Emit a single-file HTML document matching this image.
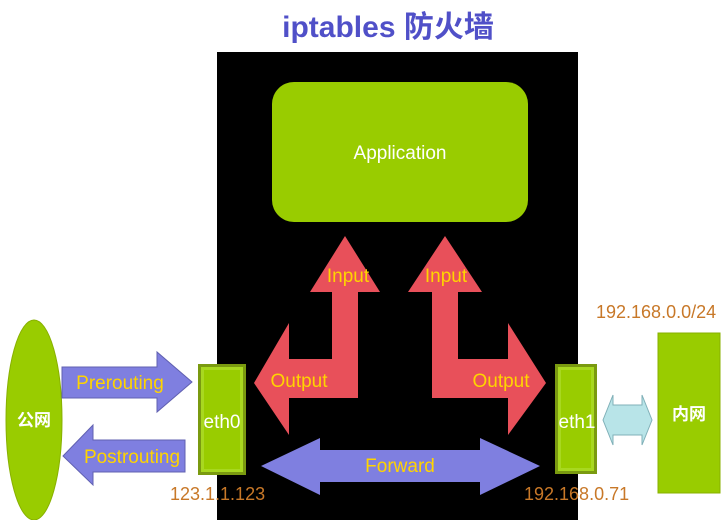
<!DOCTYPE html>
<html><head><meta charset="utf-8"><style>
body{margin:0;width:725px;height:520px;overflow:hidden;background:#fff;font-family:"Liberation Sans","Noto Sans CJK SC",sans-serif}
</style></head><body>
<svg width="725" height="520" xmlns="http://www.w3.org/2000/svg" font-family="Liberation Sans, Noto Sans CJK SC, sans-serif">
<text x="388" y="37" text-anchor="middle" font-size="30" font-weight="bold" fill="#5050c8">iptables  防火墙</text>
<rect x="217" y="52" width="361" height="468" fill="#000"/>
<rect x="272" y="82" width="256" height="140" rx="22" fill="#99cc00"/>
<text x="400" y="159" text-anchor="middle" font-size="19" fill="#fff">Application</text>
<polygon points="345,236 380,292 358,292 358,398 289,398 289,435 254,383 289,323 289,359 332,359 332,292 310,292" fill="#e8505a"/>
<polygon points="445,236 482,292 458,292 458,359 508,359 508,323 546,383 508,435 508,398 432,398 432,292 408,292" fill="#e8505a"/>
<polygon points="261,466 320,438 320,450 480,450 480,438 540,466 480,495 480,482 320,482 320,495" fill="#7f7fe0"/>
<g font-size="19" fill="#ffd400">
<text x="348" y="282" text-anchor="middle">Input</text>
<text x="446" y="282" text-anchor="middle">Input</text>
<text x="299" y="387" text-anchor="middle">Output</text>
<text x="501" y="387" text-anchor="middle">Output</text>
<text x="400" y="472" text-anchor="middle">Forward</text>
</g>
<rect x="198" y="364" width="48" height="111" fill="#7a9a10"/>
<rect x="201" y="367" width="42" height="105" fill="#a8d820"/>
<rect x="204" y="370" width="36" height="99" fill="#99cc00"/>
<text x="222" y="428" text-anchor="middle" font-size="19" fill="#fff">eth0</text>
<rect x="555" y="364" width="42" height="110" fill="#7a9a10"/>
<rect x="558" y="367" width="36" height="104" fill="#a8d820"/>
<rect x="561" y="370" width="30" height="98" fill="#99cc00"/>
<text x="577" y="428" text-anchor="middle" font-size="19" fill="#fff">eth1</text>
<rect x="658" y="333" width="62" height="160" fill="#99cc00" stroke="#88b000"/>
<text x="689" y="420" text-anchor="middle" font-size="17" font-weight="bold" fill="#fff">内网</text>
<ellipse cx="34" cy="420" rx="28" ry="100" fill="#99cc00" stroke="#88b000"/>
<text x="34" y="426" text-anchor="middle" font-size="17" font-weight="bold" fill="#fff">公网</text>
<polygon points="62,367 157,367 157,352 192,382 157,412 157,398 62,398" fill="#7f7fe0" stroke="#6060b0"/>
<text x="120" y="389" text-anchor="middle" font-size="19" fill="#ffd400">Prerouting</text>
<polygon points="63,456 93,425 93,440 185,440 185,472 93,472 93,485" fill="#7f7fe0" stroke="#6060b0"/>
<text x="132" y="463" text-anchor="middle" font-size="19" fill="#ffd400">Postrouting</text>
<polygon points="603,420 613,395 613,405 642,405 642,395 652,420 642,445 642,435 613,435 613,445" fill="#b8e4e8" stroke="#80b0b8"/>
<g font-size="18" fill="#c87828">
<text x="170" y="500">123.1.1.123</text>
<text x="524" y="500">192.168.0.71</text>
<text x="596" y="318">192.168.0.0/24</text>
</g>
</svg>
</body></html>
